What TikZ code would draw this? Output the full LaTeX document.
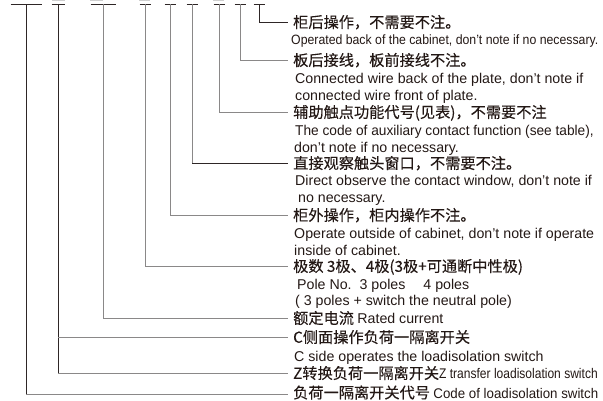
\documentclass[tikz,border=0pt]{standalone}
\usepackage{fontspec}
\setmainfont{Liberation Sans}
\newfontfamily\cn{Noto Sans CJK SC}[FakeBold=0.2]
\usepackage{graphicx}
\definecolor{dkc}{HTML}{2E2626}
\definecolor{gyc}{HTML}{8A8888}
\definecolor{ltc}{HTML}{CFCFCF}
\definecolor{txt}{HTML}{231815}
\newcommand{\enc}[2]{\scalebox{#1}[1]{\fontspec{Liberation Sans}\fontsize{14}{16}\selectfont #2}}
\begin{document}
\begin{tikzpicture}[x=1pt,y=-1pt,
  dk/.style={draw=dkc,line width=0.9pt},
  gy/.style={draw=gyc,line width=0.9pt},
  lt/.style={draw=ltc,line width=1.6pt},
  cnt/.style={anchor=base west,inner sep=0pt,text=txt,font=\cn\fontsize{15.2}{17}\selectfont},
  ent/.style={anchor=base west,inner sep=0pt,text=txt,font=\fontsize{14.2}{16}\selectfont}]
\useasboundingbox (0,0) rectangle (603,400);
% top coordinates of the verticals
\coordinate (t1) at (26,4.3);
\coordinate (t2) at (58,4.3);
\coordinate (t3) at (103,4.3);
\coordinate (t4) at (145,4.3);
\coordinate (t5) at (170,4.3);
\coordinate (t6) at (192,4.3);
\coordinate (t7) at (219,4.3);
\coordinate (t8) at (240,4.3);
\coordinate (t9) at (259,4.3);
% ends of the horizontals
\coordinate (e9) at (288,22);
\coordinate (e8) at (288,60);
\coordinate (e7) at (288,112);
\coordinate (e6) at (288,163);
\coordinate (e5) at (288,215);
\coordinate (e4) at (288,266);
\coordinate (e3) at (288,318);
\coordinate (e2c) at (288,337);
\coordinate (e2z) at (288,373);
\coordinate (e1) at (288,394);
% faint marks above
\draw[lt] (52,0.6) -- (65,0.6);
\draw[lt] (90,0.6) -- (103,0.6);
\draw[lt] (139,0.6) -- (150,0.6);
\draw[lt] (213,0.6) -- (224,0.6);
% bars
\draw[dk] ([xshift=-15.5pt]t1) -- ([xshift=15.5pt]t1);
\draw[dk] ([xshift=-6.5pt]t2) -- ([xshift=6.5pt]t2);
\draw[dk] ([xshift=-12.5pt]t3) -- ([xshift=12.5pt]t3);
\foreach \k in {4,...,9}{\draw[dk] ([xshift=-5.5pt]t\k) -- ([xshift=5.5pt]t\k);}
% connectors
\draw[dk] (t9) |- (e9);
\draw[gy] (t8) |- (e8);
\draw[gy] (t7) |- (e7);
\draw[gy] (t6) -- (t6 |- e6);
\draw[dk] (t6 |- e6) -- (e6);
\draw[gy] (t5) |- (e5);
\draw[gy] (t4) |- (e4);
\draw[gy] (t3) |- (e3);
\draw[dk] (t2) -- (t2 |- e2z);
\draw[gy] (t2 |- e2z) -- (e2z);
\draw[gy] (t2 |- e2c) -- (e2c);
\draw[dk] (t1) -- (t1 |- e1);
\draw[gy] (t1 |- e1) -- (e1);
% texts
\node[cnt] (c9) at (293,27.8) {柜后操作，不需要不注。};
\node[ent] (c9a) at (291,44.9) {\scalebox{0.91}[1]{\fontsize{13.5}{15}\selectfont Operated back of the cabinet, don't note if no necessary.}};
\node[cnt] (c8) at (293,65.8) {板后接线，板前接线不注。};
\node[ent] (c8a) at (295,83.1) {Connected wire back of the plate, don't note if};
\node[ent] (c8b) at (295,100.1) {connected wire front of plate.};
\node[cnt] (c7) at (293,117.8) {辅助触点功能代号(见表)，不需要不注};
\node[ent] (c7a) at (295,135.1) {\scalebox{0.965}[1]{The code of auxiliary contact function (see table),}};
\node[ent] (c7b) at (294,152.1) {don't note if no necessary.};
\node[cnt] (c6) at (293,168.8) {直接观察触头窗口，不需要不注。};
\node[ent] (c6a) at (295,185.1) {Direct observe the contact window, don't note if};
\node[ent] (c6b) at (294,202.1) {\ no necessary.};
\node[cnt] (c5) at (293,220.8) {柜外操作，柜内操作不注。};
\node[ent] (c5a) at (294,238.1) {Operate outside of cabinet, don't note if operate};
\node[ent] (c5b) at (294,255.1) {inside of cabinet.};
\node[cnt] (c4) at (293,271.8) {极数 3极、4极(3极+可通断中性极)};
\node[ent] (c4a) at (297,289.1) {Pole No.\hspace{8pt}3 poles\hspace{18pt}4 poles};
\node[ent] (c4b) at (295,305.1) {( 3 poles + switch the neutral pole)};
\node[cnt] (c3) at (293,323.8) {额定电流 {\fontspec{Liberation Sans}\fontsize{14.2}{16}\selectfont Rated current}};
\node[cnt] (c2) at (293,342.8) {C侧面操作负荷一隔离开关};
\node[ent] (c2a) at (294,361.1) {C side operates the loadisolation switch};
\node[cnt] (c2z) at (293,378.8) {Z转换负荷一隔离开关\enc{0.86}{Z transfer loadisolation switch}};
\node[cnt] (c1) at (293,398.3) {负荷一隔离开关代号 \enc{0.95}{Code of loadisolation switch}};
\end{tikzpicture}
\end{document}
